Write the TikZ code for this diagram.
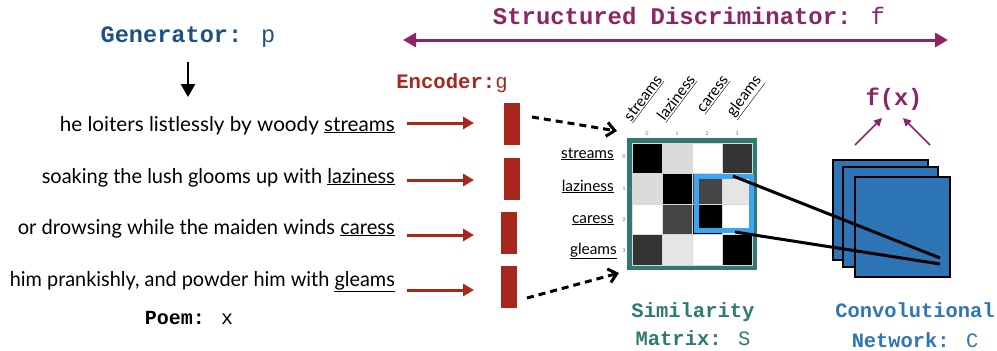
\documentclass[tikz,border=0pt]{standalone}
\usepackage{fontspec}
\setmainfont{Lato}
\newfontfamily\cour{Liberation Mono}
\usetikzlibrary{arrows.meta}
\definecolor{genblue}{HTML}{1F5082}
\definecolor{discpurple}{HTML}{8B2566}
\definecolor{encred}{HTML}{A8271C}
\definecolor{simteal}{HTML}{2F7A72}
\definecolor{convblue}{HTML}{2E75B6}
\definecolor{hiblue}{HTML}{3DA5F0}
\newcommand\poemline[2]{\resizebox{#1}{\height}{#2}}
\begin{document}
\begin{tikzpicture}[x=1pt,y=-1pt,
  poem/.style={anchor=base east, inner sep=0pt, font=\fontsize{20.5}{24}\selectfont},
  rowlab/.style={anchor=base east, inner sep=0pt, font=\fontsize{15.4}{18}\selectfont},
  collab/.style={anchor=base east, inner sep=0pt, rotate=53, font=\fontsize{15.4}{18}\selectfont},
  idx/.style={inner sep=0pt, font=\fontsize{5}{6}\selectfont, text=black!60},
  encbar/.style={fill=encred, draw=none, minimum width=16pt, minimum height=42pt, inner sep=0pt},
  redarrow/.style={encred, line width=3pt, -{Triangle[length=11pt,width=12pt]}},
  dasharrow/.style={black, line width=3pt, dash pattern=on 7pt off 5pt, -{Straight Barb[length=8pt,width=14pt,line width=3pt]}},
  fxarrow/.style={discpurple, line width=1.5pt, -{Triangle[length=8pt,width=8pt]}},
  convsq/.style={fill=convblue, draw=black, line width=2pt, minimum width=95pt, minimum height=100pt, inner sep=0pt},
  lbl/.style={inner sep=0pt, align=center},
]
\useasboundingbox (0,0) rectangle (997,351);

% titles
\node[lbl, text=genblue, font=\cour\fontsize{23.6}{26}\selectfont] (gen) at (188,37) {\textbf{Generator:} p};
\node[lbl, text=discpurple, font=\cour\fontsize{23.9}{26}\selectfont] (disc) at (689,16) {\textbf{Structured Discriminator:} f};
\coordinate (dl) at (403,40);
\coordinate (dr) at (948,40);
\draw[discpurple, line width=3pt, {Triangle[length=13pt,width=14pt]}-{Triangle[length=13pt,width=14pt]}] (dl) -- (dr);
\node[lbl, text=encred, font=\cour\fontsize{20.6}{24}\selectfont] (enc) at (452,83) {\textbf{Encoder:}g};

% generator arrow
\coordinate (gstart) at (188,62);
\coordinate (gtip) at (188,97);
\draw[black, line width=2.5pt, -{Triangle[length=13pt,width=14pt]}] (gstart) -- (gtip);

% poem lines
\node[poem] (l1) at (395,131) {\poemline{335pt}{he loiters listlessly by woody \underline{streams}}};
\node[poem] (l2) at (395,183) {\poemline{353pt}{soaking the lush glooms up with \underline{laziness}}};
\node[poem] (l3) at (395,234) {\poemline{377pt}{or drowsing while the maiden winds \underline{caress}}};
\node[poem] (l4) at (395,286) {\poemline{385pt}{him prankishly, and powder him with \underline{gleams}}};
\node[lbl, font=\cour\fontsize{20}{24}\selectfont] (poemlab) at (189,318) {\textbf{Poem:} x};

% encoder bars
\node[encbar] (e1) at (512,124) {};
\node[encbar] (e2) at (512,178.5) {};
\node[encbar] (e3) at (509,232.5) {};
\node[encbar] (e4) at (509,287) {};
\foreach \i/\y in {1/123,2/180,3/235,4/290}{
  \coordinate (ra\i) at (407,\y);
  \coordinate (rb\i) at (474,\y);
  \draw[redarrow] (ra\i) -- (rb\i);
}

% similarity matrix
\node[draw=simteal, line width=5pt, minimum width=125pt, minimum height=127pt, inner sep=0pt] (S) at (692,204) {};
\foreach \r/\row in {0/{0,86,100,20},1/{86,0,27,90},2/{100,27,0,100},3/{20,90,100,0}}{
  \foreach \c [count=\cc from 0] in \row {
    \fill[black!\the\numexpr100-\c\relax!white, draw=black!15, line width=0.5pt]
      (632+30*\cc, 143+30.5*\r) rectangle ++(30,30.5);
  }
}
\node[draw=hiblue, line width=5pt, minimum width=55pt, minimum height=54pt, inner sep=0pt] (hb) at (724,203.5) {};

% labels
\node[rowlab] (r0) at (614,158) {\underline{streams}};
\node[rowlab] (r1) at (614,191) {\underline{laziness}};
\node[rowlab] (r2) at (614,223) {\underline{caress}};
\node[rowlab] (r3) at (617,254) {\underline{gleams}};
\foreach \i/\y in {0/157,1/189,2/220,3/251}{ \node[idx] (ri\i) at (624,\y) {\i}; }
\foreach \i/\x in {0/647,1/677,2/707,3/737}{ \node[idx] (ci\i) at (\x,134) {\i}; }
\node[collab] (k0) at (663,80) {\underline{streams}};
\node[collab] (k1) at (696,80) {\underline{laziness}};
\node[collab] (k2) at (729,80) {\underline{caress}};
\node[collab] (k3) at (762,80) {\underline{gleams}};

% dashed arrows
\coordinate (d1s) at (532,117);
\coordinate (d1e) at (617,131);
\coordinate (d2s) at (527,298);
\coordinate (d2e) at (619,273);
\draw[dasharrow] (d1s) -- (d1e);
\draw[dasharrow] (d2s) -- (d2e);

% conv net
\node[convsq] (c1) at (880.5,210) {};
\node[convsq] (c2) at (890.5,217) {};
\node[convsq] (c3) at (902,227) {};
\coordinate (hbt) at (733,176);
\coordinate (hbb) at (735,232);
\coordinate (ct) at (940,258);
\coordinate (cb) at (940,264);
\draw[black, line width=3pt] (hbt) -- (ct);
\draw[black, line width=3pt] (hbb) -- (cb);

% f(x)
\node[lbl, text=discpurple, font=\cour\bfseries\fontsize{23.7}{26}\selectfont] (fx) at (894,99) {f(x)};
\coordinate (fa1) at (855,145);
\coordinate (fb1) at (882,118);
\coordinate (fa2) at (930,145);
\coordinate (fb2) at (903,118);
\draw[fxarrow] (fa1) -- (fb1);
\draw[fxarrow] (fa2) -- (fb2);

% captions
\node[lbl, text=simteal, font=\cour\bfseries\fontsize{20.5}{24}\selectfont] (sim1) at (693,312) {Similarity};
\node[lbl, text=simteal, font=\cour\fontsize{20.5}{24}\selectfont] (sim2) at (693,338) {\textbf{Matrix:} S};
\node[lbl, text=convblue, font=\cour\bfseries\fontsize{20.4}{24}\selectfont] (cv1) at (915,310) {Convolutional};
\node[lbl, text=convblue, font=\cour\fontsize{20.4}{24}\selectfont] (cv2) at (915,340) {\textbf{Network:} C};
\end{tikzpicture}
\end{document}
